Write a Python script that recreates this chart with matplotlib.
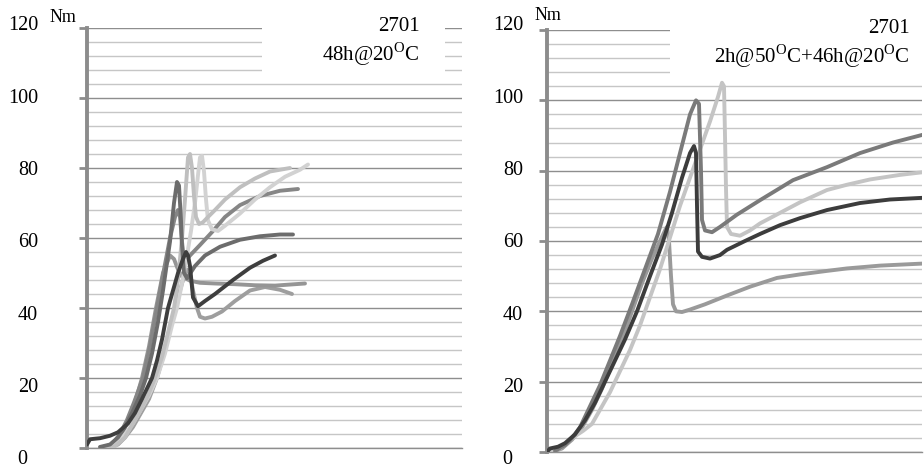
import matplotlib
matplotlib.use("Agg")
import matplotlib.pyplot as plt
from matplotlib.patches import Rectangle

plt.rcParams['font.family'] = ['Liberation Serif', 'DejaVu Serif']
plt.rcParams['mathtext.fontset'] = 'custom'
plt.rcParams['mathtext.rm'] = 'Liberation Serif'

# ---------------- data ----------------
y_tick_values = [0, 20, 40, 60, 80, 100, 120]
y_tick_labels = ["0", "20", "40", "60", "80", "100", "120"]
minor_step = 4
unit_label = "Nm"

left_title = ["2701", r"48h@20$^{\mathrm{O}}$C"]
right_title = ["2701", r"2h@50$^{\mathrm{O}}$C+46h@20$^{\mathrm{O}}$C"]

# left panel (48h @ 20C) - time (arbitrary units) and torque (Nm)
L_a_t = [0, 3, 13, 23, 31, 35, 41, 48, 55, 60, 65, 70, 75, 81, 86, 91, 96, 99, 101, 103, 106, 111, 118, 128, 146, 163, 176, 188]
L_a_y = [1, 2.5, 2.8, 3.5, 4.5, 5.5, 7, 10, 14, 17, 20, 25, 31, 40, 45, 50, 54, 56, 55, 52, 43, 40.5, 42, 44, 48, 51.5, 53.5, 55]

L_b_t = [13, 23, 31, 38, 45, 53, 59, 65, 71, 76, 80, 83, 87, 90, 92, 94, 95, 97, 100, 108, 118, 133, 153, 173, 193, 206]
L_b_y = [0.3, 1, 3, 6, 10, 15, 20, 27, 36, 45, 53, 59, 70, 76, 75, 65, 58, 50, 48.5, 52, 55, 57.5, 59.5, 60.5, 61, 61]

L_c_t = [15, 25, 33, 40, 47, 56, 63, 70, 77, 83, 88, 91, 93, 95, 97, 103, 113, 126, 138, 153, 173, 193, 211]
L_c_y = [0.2, 1, 4, 8, 13, 20, 29, 40, 51, 60, 66, 68, 66, 59, 53, 55, 58, 62, 66, 69.4, 72, 73.5, 74]

L_d_t = [18, 28, 38, 46, 54, 61, 68, 75, 81, 87, 91, 95, 98, 101, 103, 105, 107, 109, 112, 116, 121, 128, 138, 153, 168, 183, 203]
L_d_y = [0, 0.5, 3, 7, 11, 15, 20, 26, 33, 40, 48, 60, 71, 83, 84, 80, 72, 66, 64, 64.5, 66, 68, 71, 74.5, 77, 79, 80]

L_e_t = [13, 23, 31, 38, 46, 54, 62, 70, 78, 85, 90, 95, 100, 104, 108, 111, 113, 115, 117, 119, 121, 125, 131, 138, 153, 168, 183, 198, 213, 221]
L_e_y = [0.2, 0.5, 2, 4, 7, 11, 15, 20, 27, 35, 40, 47, 55, 62, 70, 78, 83, 83.5, 79, 71, 65, 62.5, 62, 63.5, 67, 71, 74.5, 77.5, 79.5, 81]

L_f_t = [18, 28, 35, 43, 50, 55, 62, 69, 76, 83, 87, 91, 95, 103, 113, 128, 148, 168, 188, 203, 218]
L_f_y = [0, 1, 4, 9, 15, 20, 29, 40, 50, 55, 54, 51, 49, 47.8, 47.2, 47, 46.8, 46.5, 46.4, 46.7, 47]

L_g_t = [21, 31, 38, 46, 54, 62, 70, 77, 83, 88, 93, 97, 100, 103, 106, 110, 113, 118, 125, 135, 148, 163, 178, 193, 205]
L_g_y = [0, 1, 3, 6, 10, 14, 20, 27, 34, 40, 45, 49, 51, 50, 45, 40, 37.5, 37, 37.5, 39, 42, 45, 46, 45.2, 44]

# right panel (2h @ 50C + 46h @ 20C)
R_1_t = [8, 18, 25, 33, 43, 53, 63, 73, 85, 98, 111, 123, 133, 143, 149, 152, 154, 155, 158, 165, 173, 190, 213, 246, 280, 313, 346, 377]
R_1_y = [0.3, 2, 4, 7, 13, 19, 26, 33, 42, 52, 62, 74, 85, 96, 100, 99, 80, 66, 63, 62.5, 64, 67.5, 71.6, 77.3, 81, 85, 88, 90.3]

R_2_t = [0, 3, 11, 18, 28, 38, 48, 58, 68, 78, 90, 103, 115, 125, 135, 143, 147, 149, 150, 151, 155, 163, 173, 180, 198, 213, 233, 253, 280, 313, 343, 377]
R_2_y = [0, 1, 1.5, 2.5, 5, 9, 14, 20, 26, 32, 40, 50, 59, 68, 78, 85, 87, 85, 70, 57, 55.5, 55, 56, 57.5, 60, 62, 64.5, 66.5, 68.8, 70.8, 71.8, 72.3]

R_3_t = [3, 13, 21, 28, 36, 45, 53, 63, 73, 83, 93, 103, 113, 123, 133, 143, 153, 163, 171, 175, 177, 178, 179, 180, 184, 193, 203, 213, 233, 253, 280, 300, 323, 353, 377]
R_3_y = [0, 1, 3, 4.5, 6, 8, 12, 17, 23, 29, 36, 44, 52, 61, 70, 78, 86, 94, 101, 105, 104, 90, 75, 64, 62, 61.5, 63, 65, 68, 71, 74.5, 76, 77.5, 78.8, 79.6]

R_4_t = [5, 15, 25, 35, 45, 55, 65, 75, 85, 95, 105, 113, 118, 120, 122, 124, 126, 129, 135, 143, 158, 180, 203, 230, 253, 280, 300, 333, 377]
R_4_y = [0, 1, 3.5, 7, 12, 18, 25, 32, 40, 48, 55, 60, 63, 64, 60, 50, 42, 40, 39.8, 40.5, 42, 44.5, 47, 49.5, 50.5, 51.5, 52.2, 53, 53.6]

left_series = [
    (L_g_t, L_g_y, '#9e9e9e'),
    (L_f_t, L_f_y, '#959595'),
    (L_c_t, L_c_y, '#868686'),
    (L_e_t, L_e_y, '#d2d2d2'),
    (L_d_t, L_d_y, '#bfbfbf'),
    (L_b_t, L_b_y, '#6c6c6c'),
    (L_a_t, L_a_y, '#3e3e3e'),
]
right_series = [
    (R_4_t, R_4_y, '#9a9a9a'),
    (R_3_t, R_3_y, '#c4c4c4'),
    (R_1_t, R_1_y, '#7a7a7a'),
    (R_2_t, R_2_y, '#3c3c3c'),
]

# ---------------- figure ----------------
W, H = 924, 471
fig = plt.figure(figsize=(W / 100, H / 100), dpi=100)

def px_rect(x0, y_top, x1, y_bot):
    return [x0 / W, (H - y_bot) / H, (x1 - x0) / W, (y_bot - y_top) / H]

ax_l = fig.add_axes(px_rect(87, 28, 462, 448))
ax_r = fig.add_axes(px_rect(547, 30, 922, 452))

def style(ax, series, box_x0, box_w, title, title_right, label_x_right, label_x_left_single, nm_xy):
    ax.set_xlim(0, 375)
    ax.set_ylim(0, 120)
    ax.set_yticks(y_tick_values)
    ax.set_yticks(list(range(0, 121, minor_step)), minor=True)
    ax.set_yticklabels([])
    ax.set_xticks([])
    ax.tick_params(axis='y', which='major', length=6, width=2, color='#8c8c8c', direction='out')
    ax.tick_params(axis='y', which='minor', length=0)
    ax.set_axisbelow(True)
    ax.grid(which='major', axis='y', color='#8e8e8e', linewidth=1.0)
    ax.grid(which='minor', axis='y', color='#c6c6c6', linewidth=1.0)
    for s in ['top', 'right']:
        ax.spines[s].set_visible(False)
    ax.spines['bottom'].set_color('#8e8e8e')
    ax.spines['bottom'].set_linewidth(1.0)
    ax.spines['left'].set_color('#8c8c8c')
    ax.spines['left'].set_linewidth(2.8)
    ax.patch.set_alpha(0)
    # white box behind the title text
    ax.add_patch(Rectangle((box_x0, 106), box_w, 16, facecolor='white', edgecolor='none',
                           zorder=1.5, clip_on=False))
    for t, y, c in series:
        ax.plot(t, y, color=c, linewidth=2.8, solid_capstyle='round',
                solid_joinstyle='round', zorder=3)
    ax.text(title_right, 120.4, title[0], ha='right', va='center', fontsize=15, zorder=5)
    ax.text(title_right, 112.6, title[1], ha='right', va='center', fontsize=15, zorder=5)
    # tick labels
    for v, lab in zip(y_tick_values, y_tick_labels):
        py = 460 - v * 3.617
        fy = (H - py) / H
        if len(lab) == 1:
            fig.text(label_x_left_single / W, fy, lab, ha='left', va='center', fontsize=14.5)
        else:
            fig.text(label_x_right / W, fy, lab, ha='right', va='center', fontsize=14.5)
    fig.text(nm_xy[0] / W, (H - nm_xy[1]) / H, unit_label, ha='center', va='center', fontsize=13)

style(ax_l, left_series, 175, 183, left_title, 333, 38, 17, (63, 18))
style(ax_r, right_series, 123, 300, right_title, 363, 523, 502, (548, 15))

fig.savefig("out.png", dpi=100, facecolor='white')
